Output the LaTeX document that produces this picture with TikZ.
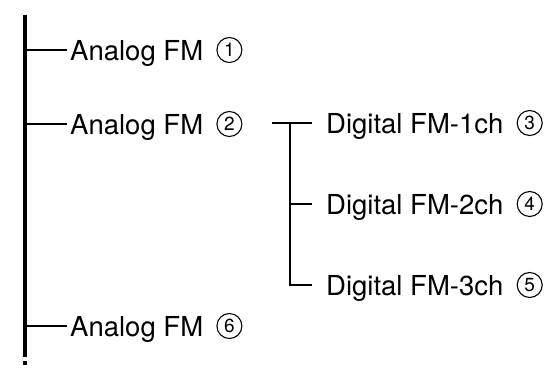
\documentclass[tikz,border=0pt]{standalone}
\usepackage{fontspec}
\setmainfont{TeX Gyre Heros}
\usetikzlibrary{positioning}
\begin{document}
\begin{tikzpicture}[x=1pt, y=-1pt,
		leaf/.style={anchor=west, inner sep=3pt, text height=20pt, text depth=0pt,
			font=\fontsize{27.5}{30}\selectfont},
		numc/.style={circle, draw, line width=1.1pt, inner sep=0pt, minimum size=25pt,
			font=\fontsize{19}{19}\selectfont},
		spine/.style={line width=3.2pt},
		branch/.style={line width=2.6pt}]
		\useasboundingbox (0,0) rectangle (549,375);
		%main line
		\coordinate (top) at (25,15);
		\coordinate (bottom) at (25,357);
		\draw[spine] (top) -- (bottom);
		\fill (23.4,361) rectangle (26.6,365);
		
		\node[leaf] (a1) at (67,50) {Analog FM};
		\node[leaf] (a2) at (67,124) {Analog FM};
		\node[leaf] (a6) at (67,326) {Analog FM};
		\node[numc, right=10pt of a1] (n1) {1};
		\node[numc, right=10pt of a2] (n2) {2};
		\node[numc, right=10pt of a6] (n6) {6};
		\foreach \n in {a1, a2, a6}{
			\draw[branch] (top |- \n.west) -- (\n.west);
		}
		
		%digital sub branch
		\node[leaf] (d1) at (323,123) {Digital FM-1ch};
		\node[leaf] (d2) at (323,204) {Digital FM-2ch};
		\node[leaf] (d3) at (323,285) {Digital FM-3ch};
		\node[numc, right=10pt of d1] (n3) {3};
		\node[numc, right=10pt of d2] (n4) {4};
		\node[numc, right=10pt of d3] (n5) {5};
		\coordinate (dstub) at (272,123);
		\coordinate (dspine) at (290,123);
		\draw[branch] (dstub) -- ([xshift=-11pt]d1.west);
		\draw[branch] (dspine) -- (dspine |- d3.west) -- ([xshift=-11pt]d3.west);
		\draw[branch] (dspine |- d2.west) -- ([xshift=-11pt]d2.west);
		\end{tikzpicture}
\end{document}
